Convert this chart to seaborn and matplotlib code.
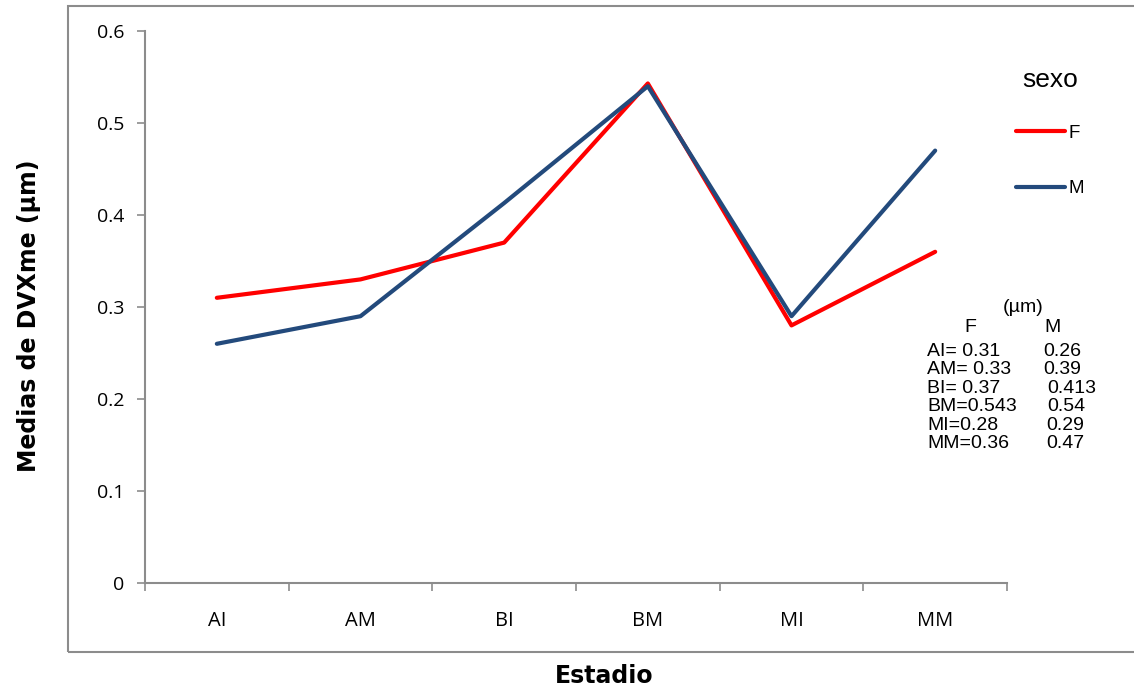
import matplotlib
matplotlib.use("Agg")
import matplotlib.pyplot as plt
from matplotlib.patches import Rectangle
from matplotlib.lines import Line2D
import pandas as pd
import seaborn as sns

# Stage means of DVXme by sex
estadios = ["AI", "AM", "BI", "BM", "MI", "MM"]
medias_f = [0.31, 0.33, 0.37, 0.543, 0.28, 0.36]
medias_m = [0.26, 0.29, 0.413, 0.54, 0.29, 0.47]
sexos = ["F", "M"]
colores = {"F": "#FF0000", "M": "#234A7C"}

# Summary table printed beside the plot
tabla_f = ["AI= 0.31", "AM= 0.33", "BI= 0.37", "BM=0.543", "MI=0.28", "MM=0.36"]
tabla_m = ["0.26", "0.39", "0.413", "0.54", "0.29", "0.47"]

df = pd.DataFrame({
    "Estadio": estadios * 2,
    "sexo": ["F"] * len(estadios) + ["M"] * len(estadios),
    "media": medias_f + medias_m,
})

sns.set_theme(style="white")
plt.rcParams["font.family"] = ["Liberation Sans", "DejaVu Sans"]
plt.rcParams["text.color"] = "black"
plt.rcParams["xtick.color"] = "black"
plt.rcParams["ytick.color"] = "black"

W, H = 1134, 688
fig = plt.figure(figsize=(W / 100, H / 100), dpi=100)
ax = fig.add_axes([145 / W, 1 - 583 / H, (1007 - 145) / W, (583 - 31) / H])

# Outer chart frame
fig.patches.append(Rectangle((68 / W, 1 - 652 / H), 1.2, (652 - 6) / H,
                             transform=fig.transFigure, fill=False,
                             edgecolor="#8C8C8C", linewidth=1.5, zorder=0))

sns.lineplot(data=df, x="Estadio", y="media", hue="sexo", hue_order=sexos,
             palette=colores, linewidth=3.0, ax=ax, legend=False, sort=False)

ax.set_xlim(-0.5, len(estadios) - 0.5)
ax.set_ylim(0, 0.6)
ax.set_yticks([0, 0.1, 0.2, 0.3, 0.4, 0.5, 0.6])
ax.set_yticklabels(["0", "0.1", "0.2", "0.3", "0.4", "0.5", "0.6"])
ax.set_xticks(range(len(estadios)))
ax.set_xticklabels(estadios)
ax.set_xticks([i - 0.5 for i in range(len(estadios) + 1)], minor=True)

for side in ["top", "right"]:
    ax.spines[side].set_visible(False)
for side in ["left", "bottom"]:
    ax.spines[side].set_color("#8C8C8C")
    ax.spines[side].set_linewidth(1.5)

ax.tick_params(axis="y", which="major", direction="out", length=6, width=1.2,
               color="#8C8C8C", labelcolor="black", labelsize=14, pad=9, left=True)
ax.tick_params(axis="x", which="major", length=0, labelsize=14.5,
               labelcolor="black", pad=20)
ax.tick_params(axis="x", which="minor", direction="out", length=6, width=1.2,
               color="#8C8C8C", bottom=True)
for lab in ax.get_xticklabels() + ax.get_yticklabels():
    lab.set_fontfamily(["Open Sans", "DejaVu Sans"])

ax.set_xlabel("")
ax.set_ylabel("")
fig.text(604 / W, 1 - 676 / H, "Estadio", ha="center", va="center",
         fontsize=17, fontweight="bold", family="DejaVu Sans")
fig.text(29 / W, 1 - 316 / H, "Medias de DVXme (µm)", ha="center", va="center",
         rotation=90, fontsize=17, fontweight="bold", family="DejaVu Sans")

# Legend
fig.text(1050 / W, 1 - 80 / H, "sexo", ha="center", va="center", fontsize=19)
handles = [Line2D([], [], color=colores[s], linewidth=3.0) for s in sexos]
leg = ax.legend(handles, sexos, frameon=False, loc="center left",
                bbox_to_anchor=(1007 / W, 1 - 161 / H),
                bbox_transform=fig.transFigure, fontsize=13.5,
                handlelength=2.6, handletextpad=0.2,
                labelspacing=2.05, borderpad=0)

# Value table
fs = 14
fig.text(1023 / W, 1 - 308 / H, "(µm)", ha="center", va="center", fontsize=fs)
fig.text(970 / W, 1 - 327 / H, "F", ha="center", va="center", fontsize=fs)
fig.text(1053 / W, 1 - 327 / H, "M", ha="center", va="center", fontsize=fs)
x_m = [1043, 1043, 1047, 1047, 1046, 1046]
for i, (tf, tm) in enumerate(zip(tabla_f, tabla_m)):
    y = 1 - (351 + i * 18.6) / H
    fig.text(927 / W, y, tf, ha="left", va="center", fontsize=fs)
    fig.text(x_m[i] / W, y, tm, ha="left", va="center", fontsize=fs)

fig.savefig("out.png", dpi=100)
